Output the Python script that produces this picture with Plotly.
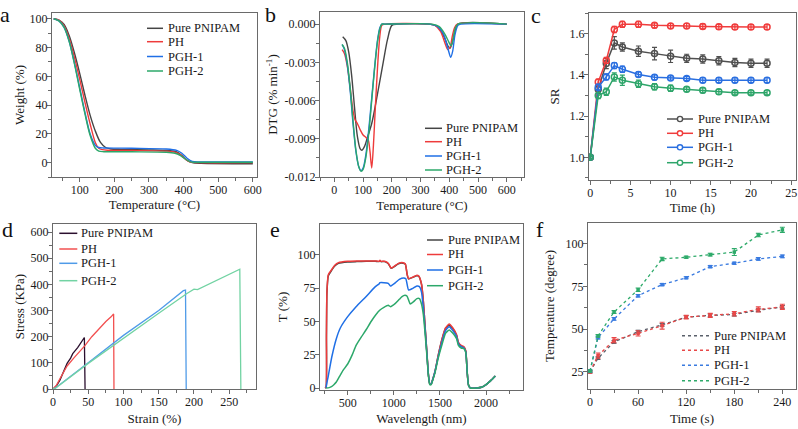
import plotly.graph_objects as go

W, H = 798, 429
FONT = "Liberation Serif, Times New Roman, serif"
NAMES = ["Pure PNIPAM", "PH", "PGH-1", "PGH-2"]

# ---------------- (a) TGA ----------------
a_pure_T = [25, 40, 55, 70, 85, 100, 115, 130, 145, 160, 175, 190, 220, 300, 360, 380, 395, 410, 425, 450, 600]
a_pure_W = [100, 99, 96, 88, 76, 62, 47, 33, 22, 14, 10.5, 9.5, 9.2, 8.8, 8.3, 7.5, 5, 1.5, 0, -0.5, -0.8]
a_ph_T = [25, 40, 55, 70, 85, 100, 115, 130, 145, 155, 165, 180, 250, 350, 375, 390, 405, 420, 440, 600]
a_ph_W = [100, 99, 95, 86, 73, 58, 42, 27, 14, 10, 9, 8.6, 8.4, 8.0, 7.3, 5.5, 2.5, 0.3, 0, 0]
a_pgh1_T = [25, 40, 55, 70, 85, 100, 115, 130, 145, 155, 170, 250, 350, 380, 395, 410, 425, 450, 600]
a_pgh1_W = [100, 98.5, 94, 84, 69, 52, 35, 20, 12, 10.5, 10.2, 10, 9.5, 8.5, 6.5, 3, 0.8, 0.5, 0.5]
a_pgh2_T = [25, 40, 55, 70, 85, 100, 115, 130, 145, 155, 170, 250, 350, 375, 390, 405, 420, 440, 600]
a_pgh2_W = [100, 98.5, 94, 84, 68.5, 51, 34, 19, 10, 8, 7.6, 7.5, 7.2, 6.5, 5, 2.5, 0.5, 0.3, 0.3]

# ---------------- (b) DTG ----------------
b_pure_T = [29, 40, 50, 60, 70, 80, 90, 96, 105, 115, 130, 150, 170, 185, 200, 220, 330, 360, 380, 395, 402, 410, 420, 430, 600]
b_pure_D = [-0.0010, -0.0013, -0.0022, -0.0040, -0.0065, -0.0088, -0.0098, -0.0099, -0.0096, -0.0089, -0.0078, -0.0055, -0.0030, -0.0012, -0.0001, 0, 0, -0.0002, -0.0009, -0.0017, -0.0019, -0.0015, -0.0005, 0, 0]
b_ph_T = [27, 35, 45, 55, 65, 72, 80, 90, 100, 110, 118, 124, 130, 136, 142, 150, 158, 165, 175, 330, 350, 370, 385, 395, 403, 410, 418, 428, 600]
b_ph_D = [-0.0020, -0.0023, -0.0033, -0.0050, -0.0068, -0.0075, -0.0078, -0.0083, -0.0087, -0.0089, -0.0091, -0.0100, -0.0113, -0.0095, -0.0068, -0.0035, -0.0010, -0.0001, 0, 0, -0.0001, -0.0006, -0.0015, -0.0020, -0.0018, -0.0010, -0.0003, 0, 0]
b_pgh1_T = [27, 35, 45, 55, 65, 75, 85, 92, 100, 110, 120, 130, 140, 150, 158, 165, 175, 330, 360, 380, 395, 405, 412, 420, 430, 440, 600]
b_pgh1_D = [-0.0016, -0.0020, -0.0032, -0.0052, -0.0078, -0.0100, -0.0112, -0.0115, -0.0113, -0.0102, -0.0082, -0.0058, -0.0034, -0.0013, -0.0003, 0, 0, 0, -0.0002, -0.0008, -0.0019, -0.0026, -0.0021, -0.0008, -0.0001, 0, 0]
b_pgh2_T = [27, 35, 45, 55, 65, 75, 85, 93, 100, 110, 120, 130, 140, 150, 158, 165, 175, 340, 365, 385, 398, 406, 413, 420, 430, 600]
b_pgh2_D = [-0.0016, -0.0019, -0.0030, -0.0050, -0.0076, -0.0099, -0.0112, -0.01155, -0.0114, -0.0104, -0.0085, -0.0060, -0.0035, -0.0014, -0.0004, 0, 0, 0, -0.0002, -0.0008, -0.0014, -0.0017, -0.0012, -0.0004, 0, 0]

# ---------------- (c) swelling ratio ----------------
c_time = [0, 1, 2, 3, 4, 6, 8, 10, 12, 14, 16, 18, 20, 22]
c_pure = [1.0, 1.33, 1.455, 1.555, 1.535, 1.515, 1.503, 1.49, 1.48, 1.477, 1.468, 1.46, 1.456, 1.456]
c_pure_err = [0.005, 0.02, 0.025, 0.03, 0.02, 0.025, 0.03, 0.03, 0.02, 0.02, 0.02, 0.02, 0.02, 0.02]
c_ph = [1.0, 1.365, 1.47, 1.62, 1.645, 1.645, 1.64, 1.637, 1.637, 1.635, 1.633, 1.632, 1.632, 1.632]
c_ph_err = [0.005, 0.015, 0.015, 0.015, 0.015, 0.015, 0.012, 0.012, 0.012, 0.012, 0.012, 0.012, 0.012, 0.012]
c_pgh1 = [1.0, 1.34, 1.39, 1.445, 1.427, 1.402, 1.388, 1.385, 1.382, 1.374, 1.374, 1.374, 1.374, 1.374]
c_pgh1_err = [0.005, 0.015, 0.015, 0.015, 0.015, 0.012, 0.012, 0.01, 0.01, 0.012, 0.012, 0.012, 0.012, 0.012]
c_pgh2 = [1.0, 1.30, 1.318, 1.39, 1.374, 1.357, 1.342, 1.335, 1.33, 1.325, 1.318, 1.313, 1.313, 1.313]
c_pgh2_err = [0.005, 0.015, 0.018, 0.02, 0.025, 0.018, 0.015, 0.015, 0.012, 0.012, 0.012, 0.01, 0.01, 0.01]

# ---------------- (d) stress-strain ----------------
d_pure_x = [0, 5, 10, 15, 20, 25, 28, 35, 40, 44.5, 45.5]
d_pure_y = [0, 12, 35, 70, 98, 118, 135, 158, 178, 197, 0]
d_ph_x = [0, 5, 10, 15, 20, 30, 40, 45, 55, 65, 75, 82, 85, 86, 86.5]
d_ph_y = [0, 15, 40, 65, 88, 120, 150, 165, 200, 230, 258, 275, 287, 287, 0]
d_pgh1_x = [0, 3, 50, 100, 150, 175, 185, 188, 189]
d_pgh1_y = [0, 3, 100, 205, 300, 352, 376, 378, 0]
d_pgh2_x = [0, 3, 50, 100, 150, 190, 200, 205, 220, 250, 265, 266.5]
d_pgh2_y = [0, 2, 98, 195, 290, 365, 382, 380, 400, 440, 458, 0]

# ---------------- (e) transmittance ----------------
e_red_wl = [255, 266, 270, 275, 290, 324, 360, 400, 500, 600, 700, 800, 840, 850, 860, 900, 940, 970, 1000, 1050, 1100, 1125, 1145, 1160, 1200, 1250, 1270, 1300, 1320, 1340, 1360, 1375, 1390, 1405, 1420, 1445, 1480, 1520, 1560, 1600, 1640, 1680, 1700, 1730, 1760, 1780, 1795, 1810, 1830, 1900, 1950, 2000, 2050, 2100]
e_pure_T = [0, 0.5, 38, 71, 84, 88, 91.5, 93.5, 94.5, 94.8, 95, 95, 94.8, 95.5, 94.8, 94.8, 93.2, 89.8, 90.8, 93.2, 93.6, 92.8, 85, 81.8, 82.8, 84.2, 83.8, 77.8, 65, 45, 25, 10, 3, 3, 6, 12, 24, 36, 44.5, 47, 44.5, 39.5, 34, 31.5, 30.5, 27.5, 12, 2, 0, 0, 0.5, 2.5, 5.5, 9]
e_ph_T = [0, 1, 40, 72, 85, 88.5, 92, 94, 95, 95.2, 95.3, 95.3, 95, 95.8, 95, 95, 93.5, 90, 91, 93.5, 94, 93, 85, 82, 83, 84.5, 84, 78, 65, 45, 25, 10, 3, 3, 6, 12, 24, 36, 45, 48, 45, 40, 34, 32, 31, 28, 12, 2, 0, 0, 0.5, 2.5, 5.5, 9]
e_pgh1_wl = [266, 275, 287, 300, 330, 377, 420, 500, 591, 698, 800, 840, 850, 893, 940, 964, 1017, 1060, 1107, 1130, 1160, 1200, 1250, 1278, 1300, 1320, 1340, 1360, 1375, 1390, 1405, 1420, 1445, 1480, 1520, 1560, 1600, 1640, 1680, 1700, 1730, 1760, 1780, 1795, 1810, 1830, 1900, 1950, 2000, 2050, 2100]
e_pgh1_T = [0, 4, 8, 13, 24, 37, 45, 53.5, 61, 68.5, 76, 78, 79, 79, 78.5, 76.5, 79, 81.5, 82.5, 82, 73.5, 74.5, 76.5, 76, 72, 60, 43, 24, 10, 3, 3, 6, 12, 23, 34, 43, 46, 43, 38.5, 33, 31, 30, 27, 12, 2, 0, 0, 0.5, 2.5, 5.5, 9]
e_pgh2_wl = [266, 300, 324, 350, 377, 410, 448, 500, 550, 591, 650, 698, 750, 805, 850, 893, 940, 964, 1017, 1060, 1089, 1120, 1142, 1160, 1178, 1210, 1250, 1278, 1300, 1320, 1340, 1360, 1375, 1390, 1405, 1420, 1445, 1480, 1520, 1560, 1600, 1640, 1680, 1700, 1730, 1760, 1780, 1795, 1810, 1830, 1900, 1950, 2000, 2050, 2100]
e_pgh2_T = [0, 0.3, 1, 2.5, 4.5, 8.5, 13, 18, 25, 32, 38.5, 43.5, 49.5, 55, 58.5, 60.5, 62, 61, 63.5, 66.5, 68.5, 69.5, 69, 66, 63, 64.5, 67, 67, 63, 55, 40, 23, 9, 2.5, 2.5, 5.5, 11, 22, 32, 41, 43.5, 41, 37, 32, 30, 29.5, 26.5, 12, 2, 0, 0, 0.5, 2.5, 5.5, 9]

# ---------------- (f) photothermal temperature ----------------
f_time = [0, 10, 30, 60, 90, 120, 150, 180, 210, 240]
f_pure = [25, 33, 42.5, 48.5, 52.5, 57, 58, 58.5, 61, 63]
f_pure_err = [0.6, 0.8, 0.8, 0.8, 0.8, 0.8, 0.8, 0.8, 0.8, 0.8]
f_ph = [25, 34.5, 43.5, 47.5, 52, 57, 58, 59, 61.5, 63]
f_ph_err = [0.6, 1.5, 1.5, 1.5, 2.0, 1.0, 1.2, 1.3, 1.5, 1.5]
f_pgh1 = [25.5, 45, 56, 69.5, 76, 80, 86.5, 88.5, 91, 92.5]
f_pgh1_err = [0.6, 0.8, 0.8, 0.7, 0.6, 0.6, 0.6, 0.6, 0.8, 0.8]
f_pgh2 = [25.5, 46, 60, 73, 91, 92, 93.5, 95, 105, 108]
f_pgh2_err = [0.6, 0.8, 0.8, 1.0, 1.0, 0.6, 0.8, 2.0, 1.0, 1.5]

# ---------------- styling ----------------
COL_A = ["#454545", "#ee3b3b", "#1f6fe6", "#2ca86a"]
COL_C = ["#505050", "#f03c3c", "#2a6fe0", "#2ea56a"]
COL_D = ["#2b0f2e", "#f25050", "#4f9be8", "#72d3a3"]
COL_F = ["#5a606b", "#e84848", "#3a7be0", "#2eaa6a"]

# panel boxes in pixels: (x0, x1, ytop, ybottom)
BOX = {
    1: (52, 257, 13, 177),
    2: (320, 524, 12, 177),
    3: (589, 796, 13, 180),
    4: (53, 256, 224, 389),
    5: (320, 523, 224, 390),
    6: (588, 796, 223, 389),
}

fig = go.Figure()


def lines(ax, xs, ys, cols, shape="spline", smooth=0.6, width=1.4, dash=None):
    for i, (x, y) in enumerate(zip(xs, ys)):
        fig.add_trace(go.Scatter(
            x=x, y=y, mode="lines", name=NAMES[i], showlegend=False,
            line=dict(color=cols[i], width=width, shape=shape,
                      smoothing=smooth if shape == "spline" else None, dash=dash),
            xaxis="x" if ax == 1 else f"x{ax}", yaxis="y" if ax == 1 else f"y{ax}",
        ))


lines(1, [a_pure_T, a_ph_T, a_pgh1_T, a_pgh2_T], [a_pure_W, a_ph_W, a_pgh1_W, a_pgh2_W], COL_A, smooth=0.8)
lines(2, [b_pure_T, b_ph_T, b_pgh1_T, b_pgh2_T], [b_pure_D, b_ph_D, b_pgh1_D, b_pgh2_D], COL_A, smooth=0.8)

c_vals = [c_pure, c_ph, c_pgh1, c_pgh2]
c_errs = [c_pure_err, c_ph_err, c_pgh1_err, c_pgh2_err]
for i in range(4):
    fig.add_trace(go.Scatter(
        x=c_time, y=c_vals[i], mode="lines+markers", name=NAMES[i], showlegend=False,
        line=dict(color=COL_C[i], width=1.5),
        marker=dict(symbol="circle-open", size=6, color=COL_C[i], line=dict(width=1.5)),
        error_y=dict(type="data", array=c_errs[i], color=COL_C[i], thickness=1.2, width=2.5),
        xaxis="x3", yaxis="y3"))

lines(4, [d_pure_x, d_ph_x, d_pgh1_x, d_pgh2_x], [d_pure_y, d_ph_y, d_pgh1_y, d_pgh2_y], COL_D, shape="linear", width=1.3)
lines(5, [e_red_wl, e_red_wl, e_pgh1_wl, e_pgh2_wl], [e_pure_T, e_ph_T, e_pgh1_T, e_pgh2_T], COL_A, smooth=0.5, width=1.5)

f_vals = [f_pure, f_ph, f_pgh1, f_pgh2]
f_errs = [f_pure_err, f_ph_err, f_pgh1_err, f_pgh2_err]
for i in range(4):
    fig.add_trace(go.Scatter(
        x=f_time, y=f_vals[i], mode="lines+markers", name=NAMES[i], showlegend=False,
        line=dict(color=COL_F[i], width=1.3, dash="dot"),
        marker=dict(symbol="square", size=3.5, color=COL_F[i]),
        error_y=dict(type="data", array=f_errs[i], color=COL_F[i], thickness=1.1, width=2.5),
        xaxis="x6", yaxis="y6"))

AXC = "#6a6a6a"
TICKF = dict(family=FONT, size=12, color="#1a1a1a")
TITLEF = dict(family=FONT, size=13, color="#1a1a1a")


def axis(dom, rng, title, standoff, anchor, **kw):
    d = dict(domain=dom, range=rng, showline=True, mirror=True, linecolor=AXC, linewidth=1.2,
             ticks="outside", ticklen=4, tickwidth=1, tickcolor=AXC, showgrid=False, zeroline=False,
             tickfont=TICKF, title=dict(text=title, font=TITLEF, standoff=standoff),
             ticklabelstandoff=-3, anchor=anchor, automargin=False)
    d.update(kw)
    return d


specs = {
    1: dict(x=dict(rng=[20, 612], title="Temperature (°C)", tick0=0, dtick=100, minor=dict(dtick=50)),
            y=dict(rng=[-10, 104], title="Weight (%)", tick0=0, dtick=20, minor=dict(dtick=10))),
    2: dict(x=dict(rng=[-50, 660], title="Temperature (°C)", tick0=0, dtick=100, minor=dict(dtick=50)),
            y=dict(rng=[-0.012, 0.00095], title="DTG (% min<sup>-1</sup>)",
                   tickvals=[-0.012, -0.009, -0.006, -0.003, 0.0],
                   ticktext=["-0.012", "-0.009", "-0.006", "-0.003", "0.000"],
                   minor=dict(tickvals=[-0.0105, -0.0075, -0.0045, -0.0015]))),
    3: dict(x=dict(rng=[-0.15, 25.6], title="Time (h)", tick0=0, dtick=5, minor=dict(dtick=2.5)),
            y=dict(rng=[0.89, 1.70], title="SR", tick0=1.0, dtick=0.2, tickformat=".1f", minor=dict(dtick=0.1))),
    4: dict(x=dict(rng=[0, 288], title="Strain (%)", tick0=0, dtick=50, minor=dict(dtick=25)),
            y=dict(rng=[0, 631], title="Stress (KPa)", tick0=0, dtick=100, minor=dict(dtick=50))),
    5: dict(x=dict(rng=[200, 2400], title="Wavelength (nm)", tickvals=[500, 1000, 1500, 2000],
                   minor=dict(tickvals=[250, 750, 1250, 1750, 2250])),
            y=dict(rng=[-1.5, 123], title="T (%)", tickvals=[0, 25, 50, 75, 100])),
    6: dict(x=dict(rng=[-2.5, 257], title="Time (s)", tick0=0, dtick=60, minor=dict(dtick=30)),
            y=dict(rng=[15, 112], title="Temperature (degree)", tickvals=[25, 50, 75, 100],
                   minor=dict(tickvals=[37.5, 62.5, 87.5]))),
}

XSTAND = {1: 0, 2: 5, 3: 4, 4: 6, 5: 5, 6: 6}
YSTAND = {1: 1, 2: 3, 3: 6, 4: 2, 5: 6, 6: 7}
lay = {}
for k, (x0, x1, yt, yb) in BOX.items():
    xd = [x0 / W, x1 / W]
    yd = [1 - yb / H, 1 - yt / H]
    sx = specs[k]["x"].copy()
    sy = specs[k]["y"].copy()
    xn = "xaxis" if k == 1 else f"xaxis{k}"
    yn = "yaxis" if k == 1 else f"yaxis{k}"
    xa = "x" if k == 1 else f"x{k}"
    ya = "y" if k == 1 else f"y{k}"
    lay[xn] = axis(xd, sx.pop("rng"), sx.pop("title"), XSTAND[k], ya, **sx)
    lay[yn] = axis(yd, sy.pop("rng"), sy.pop("title"), YSTAND[k], xa, **sy)
    for ax in (lay[xn], lay[yn]):
        if "minor" in ax:
            ax["minor"].update(ticks="outside", ticklen=2.5, tickcolor=AXC, tickwidth=1)

# ---------------- hand-placed legends (pixel layout) ----------------
LEG = {
    # panel: (rows y, sample x0, sample x1, text x, colors, dash, marker)
    1: ([28.3, 41.7, 56.5, 71], 147, 163, 167, COL_A, None, False),
    2: ([128.3, 141.7, 156, 170], 425, 442, 445, COL_A, None, False),
    3: ([119, 133.3, 147.3, 162.7], 667, 693, 697, COL_C, None, True),
    4: ([233.3, 249, 263.3, 280.7], 59.3, 77.3, 80, COL_D, None, False),
    5: ([240, 254.5, 270, 285.7], 427, 443, 447, COL_A, None, False),
    6: ([335.7, 350.3, 365.3, 380.7], 682, 710, 713, COL_F, "dot", False),
}
shapes = []
ann = []
LEGF = dict(family=FONT, size=12.5, color="#1a1a1a")
for k, (rows, sx0, sx1, tx, cols, dash, mark) in LEG.items():
    for i, ry in enumerate(rows):
        shapes.append(dict(type="line", xref="paper", yref="paper",
                           x0=sx0 / W, x1=sx1 / W, y0=1 - ry / H, y1=1 - ry / H,
                           line=dict(color=cols[i], width=1.5, dash=dash or "solid")))
        if mark:
            cx = (sx0 + sx1) / 2
            shapes.append(dict(type="circle", xref="paper", yref="paper",
                               x0=(cx - 2.6) / W, x1=(cx + 2.6) / W,
                               y0=1 - (ry + 2.6) / H, y1=1 - (ry - 2.6) / H,
                               fillcolor="white", line=dict(color=cols[i], width=1.4)))
        ann.append(dict(text=NAMES[i], x=(tx - 1) / W, y=1 - ry / H, xref="paper", yref="paper",
                        showarrow=False, xanchor="left", yanchor="middle", font=LEGF))

# panel letters: (text, left px, top px)
letters = [("a", -1, 0.5), ("b", 264, 0.5), ("c", 530, 1.5), ("d", 0.5, 215.5), ("e", 269, 215.5), ("f", 535, 215.5)]
for t, lx, ly in letters:
    ann.append(dict(text=t, x=lx / W, y=1 - ly / H, xref="paper", yref="paper", showarrow=False,
                    xanchor="left", yanchor="top", borderpad=0,
                    font=dict(family=FONT, size=22, color="#111")))

fig.update_layout(width=W, height=H, margin=dict(l=0, r=0, t=0, b=0), paper_bgcolor="white",
                  plot_bgcolor="white", showlegend=False, annotations=ann, shapes=shapes, **lay)

fig.write_html("out.html", config={"displayModeBar": False, "staticPlot": True},
               post_script="document.body.style.margin='0px';document.body.style.overflow='hidden';")
